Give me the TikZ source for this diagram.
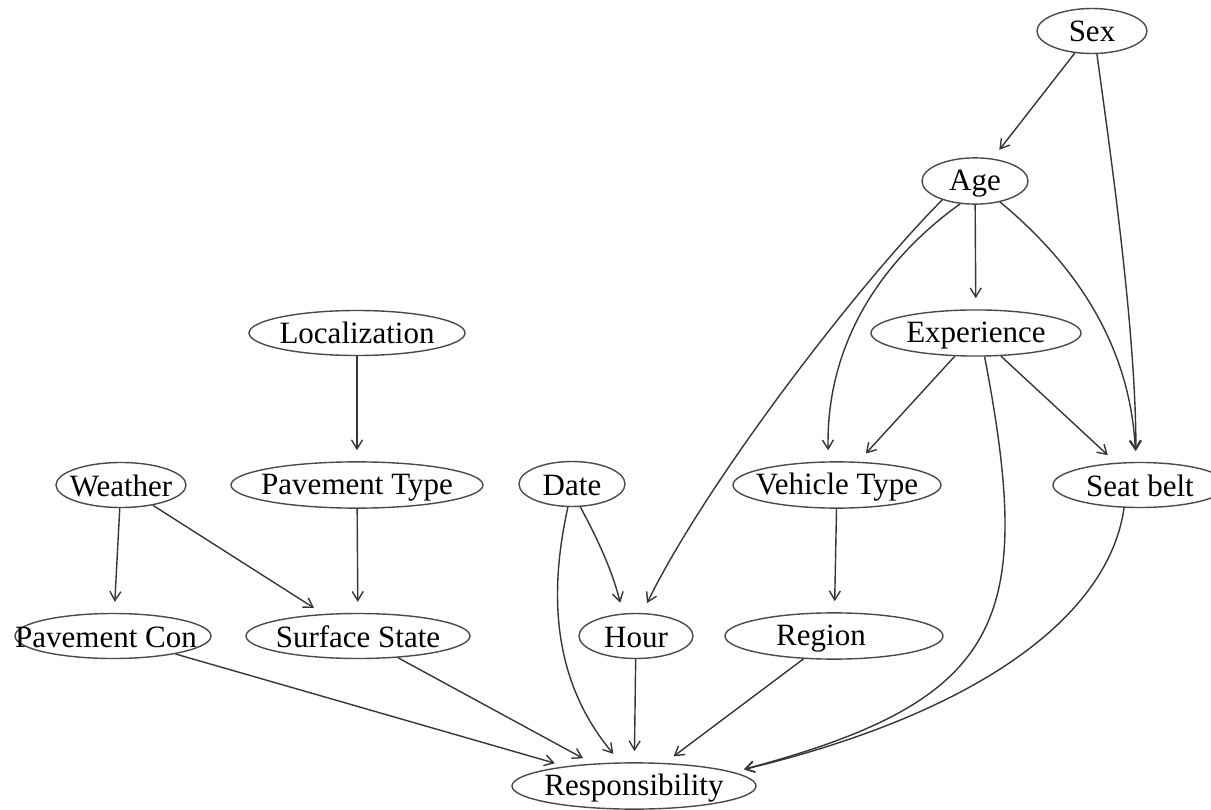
\documentclass[tikz,border=0pt]{standalone}
\usepackage{fontspec}
\setmainfont{Liberation Serif}
\usetikzlibrary{arrows.meta,shapes.geometric}
\definecolor{edgegray}{HTML}{363636}
\definecolor{nodegray}{HTML}{4A4A4A}
\newcommand\lbl[2][0pt]{\makebox[0pt]{\hspace*{#1}\rule[-4pt]{0pt}{30pt}#2}}
\begin{document}
\begin{tikzpicture}[x=1pt,y=-1pt,
  nd/.style={ellipse, draw=nodegray, line width=1.4pt, inner sep=0pt,
    minimum height=45pt, font=\fontsize{31}{36}\selectfont, text=black},
  arr/.style={draw=edgegray, line width=1.4pt,
    -{Straight Barb[length=9pt,width=11pt]}, shorten >=11pt}]
\useasboundingbox (0,0) rectangle (1211,810);
% nodes
\node[nd, minimum width=110pt] (Sex) at (1092,31) {\lbl{Sex}};
\node[nd, minimum width=106pt] (Age) at (975,181) {\lbl{Age}};
\node[nd, minimum width=216pt] (Loc) at (357,333) {\lbl{Localization}};
\node[nd, minimum width=210pt] (Exp) at (976,333) {\lbl{Experience}};
\node[nd, minimum width=130pt] (Weather) at (121,485) {\lbl{Weather}};
\node[nd, minimum width=252pt] (PavType) at (357,485) {\lbl{Pavement Type}};
\node[nd, minimum width=106pt] (Date) at (572,484) {\lbl{Date}};
\node[nd, minimum width=208pt] (VehType) at (837,485) {\lbl{Vehicle Type}};
\node[nd, minimum width=174pt] (Seat) at (1140,485) {\lbl{Seat belt}};
\node[nd, minimum width=196pt] (PavCon) at (113,636) {\lbl[-14pt]{Pavement Con}};
\node[nd, minimum width=224pt] (Surf) at (358,636) {\lbl{Surface State}};
\node[nd, minimum width=114pt] (Hour) at (636,636) {\lbl{Hour}};
\node[nd, minimum width=218pt] (Region) at (834,636) {\lbl[-26pt]{Region}};
\node[nd, minimum width=244pt, minimum height=46pt] (Resp) at (634,786) {\lbl{Responsibility}};
% connectors
\draw[arr] (Sex) -- (Age);
\draw[arr] (Sex.-78) .. controls (1110,150) and (1136,330) .. (Seat.100);
\draw[arr] (Age) -- (Exp);
\draw[arr] (Age.210) .. controls (862,280) and (708,479) .. (Hour.75);
\draw[arr] (Age.237) .. controls (875,265) and (826,350) .. (VehType.110);
\draw[arr] (Age.-40) .. controls (1070,260) and (1130,340) .. (Seat.100);
\draw[arr] (Exp) -- (VehType);
\draw[arr] (Exp) -- (Seat);
\draw[arr] (Exp.-70) .. controls (1035,620) and (1005,700) .. (Resp.8);
\draw[arr] (Seat.235) .. controls (1110,610) and (990,710) .. (Resp.8);
\draw[arr] (Loc) -- (PavType);
\draw[arr] (Weather) -- (PavCon);
\draw[arr] (Weather) -- (Surf);
\draw[arr] (PavType) -- (Surf);
\draw[arr] (Date.-70) .. controls (598,540) and (612,570) .. (Hour.120);
\draw[arr] (Date.-100) .. controls (545,610) and (560,690) .. (Resp.120);
\draw[arr] (VehType) -- (Region);
\draw[arr] (PavCon) -- (Resp);
\draw[arr] (Surf) -- (Resp);
\draw[arr] (Hour) -- (Resp);
\draw[arr] (Region) -- (Resp);
\end{tikzpicture}
\end{document}
